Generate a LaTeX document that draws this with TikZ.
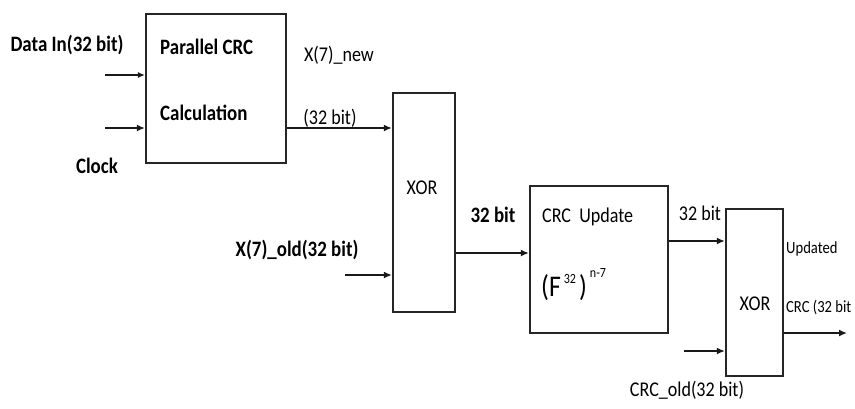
\documentclass[tikz,border=0pt]{standalone}
\usepackage{fontspec}
\setmainfont{Carlito}
\usepackage{graphicx}
\usetikzlibrary{arrows.meta}
\newcommand{\sq}[1]{\scalebox{0.86}[1]{#1}}
\begin{document}
\begin{tikzpicture}[x=1pt,y=-1pt,
  blk/.style={draw=black!85, line width=2.2pt, inner sep=0pt},
  arr/.style={draw=black!90, line width=2.2pt, -{Latex[length=8pt,width=7pt]}},
  thinarr/.style={draw=black!90, line width=1.3pt, -{Latex[length=7pt,width=6pt]}},
  lbl/.style={inner sep=0pt, font=\fontsize{21}{23}\selectfont},
  blbl/.style={inner sep=0pt, font=\fontsize{22}{24}\selectfont\bfseries},
  slbl/.style={inner sep=0pt, font=\fontsize{17}{19}\selectfont}]
\useasboundingbox (0,0) rectangle (855,408);
\fill[white] (0,0) rectangle (855,408);
% blocks
\node[blk, minimum width=140pt, minimum height=149pt] (pcrc) at (216,88.5) {};
\node[blk, minimum width=62pt, minimum height=219pt] (xorA) at (424,202.5) {};
\node[blk, minimum width=138pt, minimum height=147pt] (upd) at (599,259.5) {};
\node[blk, minimum width=57pt, minimum height=167pt] (xorB) at (754.5,292.5) {};
% free ends
\coordinate (din) at (105,75);
\coordinate (clk) at (105,128);
\coordinate (xold) at (345,275);
\coordinate (cold) at (684,351);
\coordinate (out) at (847,333);
% connectors
\draw[thinarr] (din) -- (din -| pcrc.west);
\draw[arr] (clk) -- (clk -| pcrc.west);
\draw[arr] (pcrc.east |- clk) -- (xorA.west |- clk);
\draw[arr] (xold) -- (xold -| xorA.west);
\draw[arr] (xorA.east |- 0,253) -- (upd.west |- 0,253);
\draw[arr] (upd.east |- 0,241) -- (xorB.west |- 0,241);
\draw[arr] (cold) -- (cold -| xorB.west);
\draw[arr] (xorB.east |- out) -- (out);
% labels
\node[blbl] (tdin) at (67,45) {\sq{Data In(32 bit)}};
\node[blbl] (tclk) at (97,166) {\sq{Clock}};
\node[blbl, anchor=west] (tpar) at (160,47) {\sq{Parallel CRC}};
\node[blbl, anchor=west] (tcal) at (160,113) {\sq{Calculation}};
\node[lbl] (txnew) at (339,55) {\sq{X(7)\_new}};
\node[lbl] (t32a) at (330,118) {\sq{(32 bit)}};
\node[lbl] (txorA) at (422,188) {\sq{XOR}};
\node[blbl] (t32b) at (493,215) {\sq{32 bit}};
\node[blbl] (txold) at (297,250) {\sq{X(7)\_old(32 bit)}};
\node[lbl, anchor=west] (tupd) at (542,217) {\sq{CRC\ \ Update}};
\node[lbl, anchor=west] (tf) at (541,285) {\sq{{\fontsize{30}{32}\selectfont (F}\,\raisebox{1.3ex}{\fontsize{14}{14}\selectfont 32}\,{\fontsize{30}{32}\selectfont )}\,\raisebox{1.9ex}{\fontsize{14}{14}\selectfont n-7}}};
\node[lbl] (t32c) at (700,213) {\sq{32 bit}};
\node[lbl] (txorB) at (755,304) {\sq{XOR}};
\node[slbl, anchor=west] (tupdd) at (786,249) {\sq{Updated}};
\node[slbl, anchor=west] (tcrc) at (786,307) {\sq{CRC (32 bit}};
\node[lbl] (tcold) at (687,390) {\sq{CRC\_old(32 bit)}};
\end{tikzpicture}
\end{document}
